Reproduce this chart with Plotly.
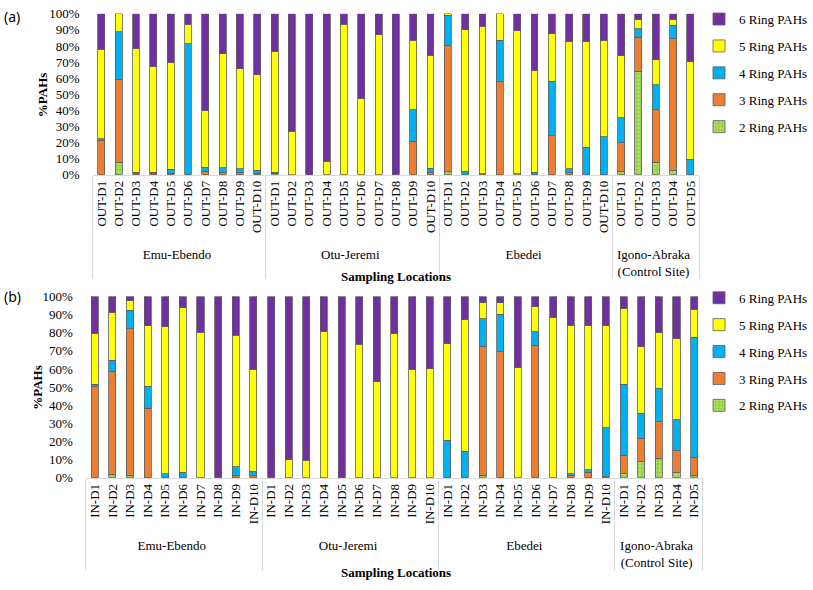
import plotly.graph_objects as go

W, H = 813, 590

groups = (["Emu-Ebendo"] * 10 + ["Otu-Jeremi"] * 10 + ["Ebedei"] * 10
          + ["Igono-Abraka<br>(Control Site)"] * 5)
out_labels = ["OUT-D1", "OUT-D2", "OUT-D3", "OUT-D4", "OUT-D5", "OUT-D6", "OUT-D7", "OUT-D8", "OUT-D9", "OUT-D10",
              "OUT-D1", "OUT-D2", "OUT-D3", "OUT-D4", "OUT-D5", "OUT-D6", "OUT-D7", "OUT-D8", "OUT-D9", "OUT-D10",
              "OUT-D1", "OUT-D2", "OUT-D3", "OUT-D4", "OUT-D5", "OUT-D6", "OUT-D7", "OUT-D8", "OUT-D9", "OUT-D10",
              "OUT-D1", "OUT-D2", "OUT-D3", "OUT-D4", "OUT-D5"]
in_labels = ["IN-D1", "IN-D2", "IN-D3", "IN-D4", "IN-D5", "IN-D6", "IN-D7", "IN-D8", "IN-D9", "IN-D10",
             "IN-D1", "IN-D2", "IN-D3", "IN-D4", "IN-D5", "IN-D6", "IN-D7", "IN-D8", "IN-D9", "IN-D10",
             "IN-D1", "IN-D2", "IN-D3", "IN-D4", "IN-D5", "IN-D6", "IN-D7", "IN-D8", "IN-D9", "IN-D10",
             "IN-D1", "IN-D2", "IN-D3", "IN-D4", "IN-D5"]

series_names = ["2 Ring PAHs", "3 Ring PAHs", "4 Ring PAHs", "5 Ring PAHs", "6 Ring PAHs"]

# ---- panel (a): outdoor ----
ring2_a = [0, 7.6, 0, 0, 0, 0, 0, 0, 0, 0,
           0.5, 0, 0, 0, 0, 0, 0, 0, 0, 0,
           2, 0, 0, 0, 0.5, 0, 0, 0, 0, 0,
           2, 64.3, 7.6, 2.6, 0]
ring3_a = [21.5, 51.8, 0.4, 0.5, 0.8, 0, 2, 1.6, 1.2, 0.4,
           0.3, 0, 0, 0, 0, 0, 0, 0, 20.7, 1.5,
           78.3, 0, 0.5, 58.2, 0, 0, 24.3, 1.2, 0, 0,
           17.7, 20.8, 32.6, 81.9, 0]
ring4_a = [0.8, 29.4, 1.2, 1.0, 2.4, 81.5, 2.6, 2.8, 2.4, 2.2,
           0.7, 0, 0, 0, 0, 0, 0, 0, 19.5, 2.5,
           18.7, 2, 0, 25.3, 0, 1.6, 33.7, 2.4, 16.9, 23.7,
           15.6, 5.7, 15.6, 8.5, 9.6]
ring5_a = [55.7, 11.2, 76.7, 65.8, 66.7, 12.1, 35, 70.9, 62.3, 59.6,
           74.8, 27.1, 0, 8.4, 93.6, 47.6, 87.1, 0, 43.3, 70.3,
           1, 88, 91.9, 16.5, 89.1, 62.9, 29.6, 79.5, 66.2, 59.8,
           38.6, 5.6, 15.7, 3.6, 60.7]
ring6_a = [22.0, 0, 21.7, 32.7, 30.1, 6.4, 60.4, 24.7, 34.1, 37.8,
           23.7, 72.9, 100, 91.6, 6.4, 52.4, 12.9, 100, 16.5, 25.7,
           0, 10, 7.6, 0, 10.4, 35.5, 12.4, 16.9, 16.9, 16.5,
           26.1, 3.6, 28.5, 3.4, 29.7]

# ---- panel (b): indoor ----
ring2_b = [0, 1.8, 1.4, 0, 0, 0, 0, 0, 0, 0,
           0, 0, 0, 0, 0, 0, 0, 0, 0, 0,
           0, 0, 1.4, 0, 0, 0, 0, 0, 0, 0,
           2.2, 9.1, 10.8, 2.7, 1.4]
ring3_b = [50.2, 56.6, 80.7, 38.4, 0, 0, 0, 0, 1.4, 1.1,
           0, 0, 0, 0, 0, 0, 0, 0, 0, 0,
           0, 0, 70.8, 69.5, 0, 72.8, 0, 1.4, 2.9, 0.7,
           10.3, 12.6, 20.2, 12.2, 9.9]
ring4_b = [1.4, 6.5, 10.4, 12.1, 2.3, 2.9, 0, 0, 4.7, 2.5,
           0, 0, 0, 0, 0, 0, 0, 0, 0, 0,
           20.6, 14.5, 15.6, 20.8, 0, 7.8, 0, 0.9, 1.6, 26.9,
           39.1, 13.8, 18.3, 17.2, 66.1]
ring5_b = [28.0, 26.5, 5.0, 33.4, 80.9, 91.0, 80.3, 0, 72.4, 56.3,
           0, 10, 9.7, 80.6, 0, 73.5, 53, 79.6, 59.7, 60.2,
           53.4, 72.6, 9.0, 6.1, 60.6, 13.7, 88.5, 81.9, 79.7, 56.6,
           41.9, 36.7, 30.8, 44.6, 15.4]
ring6_b = [20.4, 8.6, 2.5, 16.1, 16.8, 6.1, 19.7, 100, 21.5, 40.1,
           100, 90, 90.3, 19.4, 100, 26.5, 47, 20.4, 40.3, 39.8,
           26, 12.9, 3.2, 3.6, 39.4, 5.7, 11.5, 15.8, 15.8, 15.8,
           6.5, 27.8, 19.9, 23.3, 7.2]

colors = ["#92D050", "#ED7D31", "#00B0F0", "#FFFF00", "#7030A0"]

SERIF = "Liberation Serif"

fig = go.Figure()


def add_panel(labels, data, xa, ya, legend):
    for i, (name, vals, col) in enumerate(zip(series_names, data, colors)):
        marker = dict(color=col, line=dict(color="#5e5e5e", width=0.8))
        if name.startswith("2"):
            marker["pattern"] = dict(shape=".", fgcolor="#E6F56A", bgcolor=col,
                                     size=4, solidity=0.35)
        fig.add_trace(go.Bar(
            x=[groups, labels], y=vals, name=name, marker=marker,
            xaxis=xa, yaxis=ya, legend=legend, legendgroup=legend + name,
            legendrank=10 - i,
        ))


add_panel(out_labels, [ring2_a, ring3_a, ring4_a, ring5_a, ring6_a], "x", "y", "legend")
add_panel(in_labels, [ring2_b, ring3_b, ring4_b, ring5_b, ring6_b], "x2", "y2", "legend2")


def xaxis(x0, x1, anchor):
    return dict(
        domain=[x0 / W, x1 / W], anchor=anchor, type="multicategory",
        tickangle=-90, tickfont=dict(family=SERIF, size=13, color="#000"),
        showline=True, linecolor="#D9D9D9", linewidth=1,
        showdividers=True, dividercolor="#D9D9D9", dividerwidth=1,
        ticks="", showgrid=False, zeroline=False,
    )


def yaxis(top, bottom, anchor):
    return dict(
        domain=[1 - bottom / H, 1 - top / H], anchor=anchor, range=[0, 100],
        tickvals=[0, 10, 20, 30, 40, 50, 60, 70, 80, 90, 100],
        ticktext=["0%", "10%", "20%", "30%", "40%", "50%", "60%", "70%", "80%", "90%", "100%"],
        tickfont=dict(family=SERIF, size=13, color="#000"),
        showgrid=False, zeroline=False, showline=False, ticks="",
        ticklabelstandoff=12,
    )


legend_common = dict(
    font=dict(family=SERIF, size=13, color="#000"),
    traceorder="grouped", tracegroupgap=7,
    bgcolor="rgba(0,0,0,0)", xanchor="left", yanchor="top",
)

fig.update_layout(
    width=W, height=H, margin=dict(l=0, r=0, t=0, b=0),
    paper_bgcolor="white", plot_bgcolor="white",
    barmode="stack", bargap=0.6,
    showlegend=True,
    xaxis=xaxis(96, 724, "y"),
    yaxis=yaxis(7, 172, "x"),
    xaxis2=xaxis(89, 728, "y2"),
    yaxis2=yaxis(297, 483, "x2"),
    legend=dict(x=724 / W, y=1 + 3 / H, **legend_common),
    legend2=dict(x=724 / W, y=1 - 283 / H, **legend_common),
    annotations=[
        dict(text="(a)", x=2 / W, y=1 - 10 / H, xref="paper", yref="paper",
             xanchor="left", yanchor="middle", showarrow=False,
             font=dict(family="Noto Sans, Open Sans, sans-serif", size=14, color="#000")),
        dict(text="(b)", x=2 / W, y=1 - 297 / H, xref="paper", yref="paper",
             xanchor="left", yanchor="middle", showarrow=False,
             font=dict(family="Noto Sans, Open Sans, sans-serif", size=14, color="#000")),
        dict(text="<b>%PAHs</b>", x=44 / W, y=1 - 90 / H, xref="paper", yref="paper",
             textangle=-90, xanchor="center", yanchor="middle", showarrow=False,
             font=dict(family=SERIF, size=13, color="#000")),
        dict(text="<b>%PAHs</b>", x=38 / W, y=1 - 390 / H, xref="paper", yref="paper",
             textangle=-90, xanchor="center", yanchor="middle", showarrow=False,
             font=dict(family=SERIF, size=13, color="#000")),
        dict(text="<b>Sampling Locations</b>", x=410 / W, y=1 - 277 / H, xref="paper", yref="paper",
             xanchor="center", yanchor="middle", showarrow=False,
             font=dict(family=SERIF, size=13, color="#000")),
        dict(text="<b>Sampling Locations</b>", x=410 / W, y=1 - 580 / H, xref="paper", yref="paper",
             xanchor="center", yanchor="middle", showarrow=False,
             font=dict(family=SERIF, size=13, color="#000")),
    ],
)

fig.write_html("out.html")
